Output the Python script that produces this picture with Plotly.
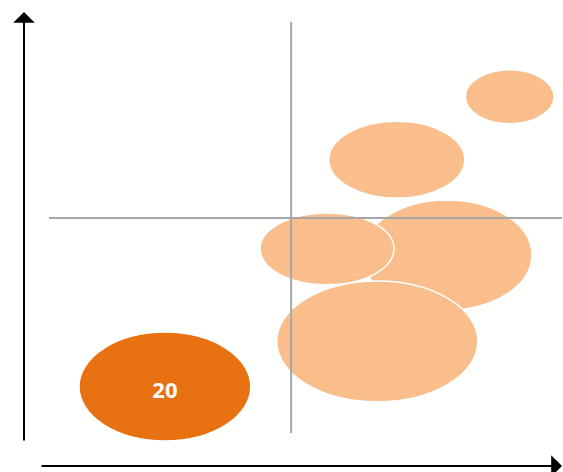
import plotly.graph_objects as go

# Bubble data (abstract units)
names = ["A", "B", "C", "D", "E", "F"]
x_vals = [2.26, 8.98, 6.78, 7.76, 5.42, 6.40]
y_vals = [1.13, 8.18, 6.65, 4.33, 4.48, 2.23]
spread_x = [3.35, 1.73, 2.65, 3.31, 2.61, 3.92]
spread_y = [2.65, 1.31, 1.87, 2.68, 1.75, 2.94]
labels = ["20", "", "", "", "", ""]
highlight = [True, False, False, False, False, False]

# Quadrant divider values
x_split = 4.72
y_split = 5.23

LIGHT = "#F9BE8C"
DARK = "#E87111"

fig = go.Figure()

shapes = []
for xv, yv, sx, sy, hl in zip(x_vals, y_vals, spread_x, spread_y, highlight):
    shapes.append(dict(
        type="circle", xref="x", yref="y",
        x0=xv - sx / 2, x1=xv + sx / 2, y0=yv - sy / 2, y1=yv + sy / 2,
        fillcolor=DARK if hl else LIGHT,
        line=dict(color="white", width=1.5),
        layer="below",
    ))

# quadrant lines
shapes.append(dict(type="line", xref="x", yref="y", x0=x_split, x1=x_split,
                   y0=0, y1=10, line=dict(color="#A6A6A6", width=2), layer="below"))
shapes.append(dict(type="line", xref="x", yref="y", x0=0, x1=10,
                   y0=y_split, y1=y_split, line=dict(color="#A6A6A6", width=2), layer="below"))

fig.add_trace(go.Scatter(
    x=x_vals, y=[v - 0.14 for v in y_vals], text=labels, mode="text",
    texttemplate="<b>%{text}</b>",
    textfont=dict(family="Open Sans", size=22, color="white"),
    hoverinfo="skip", showlegend=False,
))

W, H = 563, 472
annotations = [
    dict(xref="paper", yref="paper", x=24 / W, y=1 - 12 / H, ax=0, ay=430,
         axref="pixel", ayref="pixel", text="", showarrow=True,
         arrowhead=1, arrowsize=1.8, arrowwidth=2, arrowcolor="black"),
    dict(xref="paper", yref="paper", x=1.0, y=1 - 466 / H, ax=-523, ay=0,
         axref="pixel", ayref="pixel", text="", showarrow=True,
         arrowhead=1, arrowsize=1.8, arrowwidth=2, arrowcolor="black"),
]

fig.update_layout(
    width=W, height=H,
    margin=dict(l=0, r=0, t=0, b=0),
    paper_bgcolor="white", plot_bgcolor="white",
    xaxis=dict(range=[-0.955, 10.02], visible=False, fixedrange=True),
    yaxis=dict(range=[-0.949, 10.535], visible=False, fixedrange=True),
    shapes=shapes,
    annotations=annotations,
    showlegend=False,
)

fig.write_html(
    "out.html",
    config={"displayModeBar": False, "staticPlot": True},
    post_script="document.body.style.margin='0';document.body.style.overflow='hidden';",
)
